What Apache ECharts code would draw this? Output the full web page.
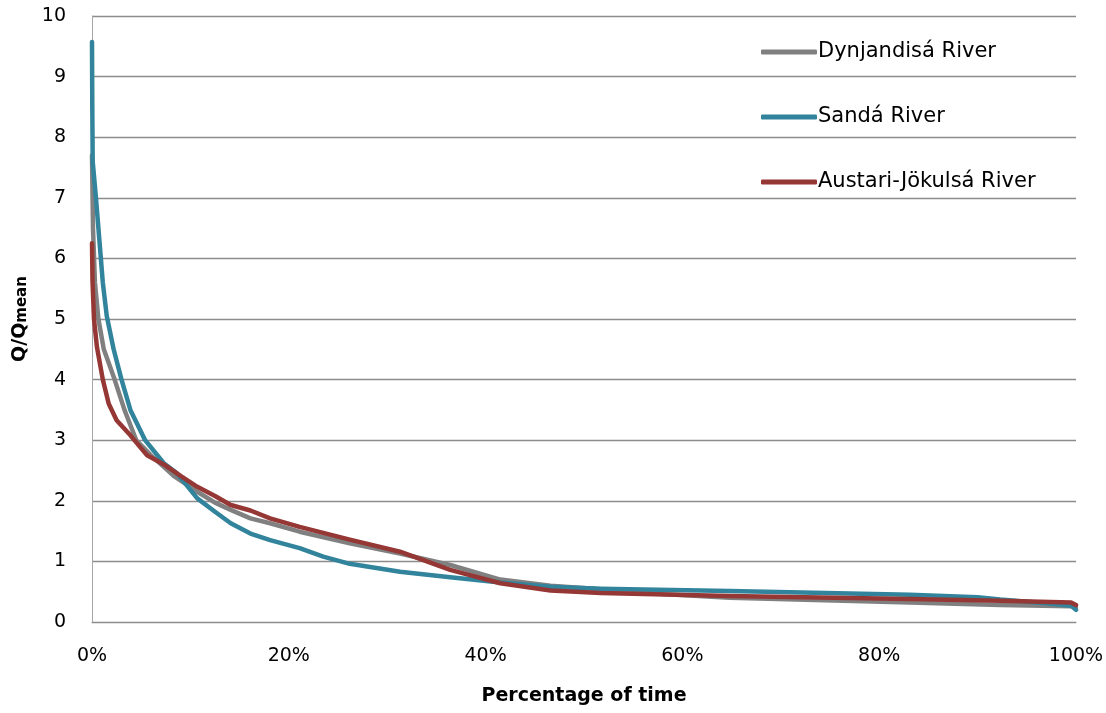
<!DOCTYPE html>
<html>
<head>
<meta charset="utf-8">
<script src="https://cdn.jsdelivr.net/npm/echarts@6/dist/echarts.min.js"></script>
<style>
html,body{margin:0;padding:0;background:#fff;}
#c{width:1106px;height:713px;}
</style>
</head>
<body>
<div id="c"></div>
<script>
const seriesNames = ["Dynjandisá River", "Sandá River", "Austari-Jökulsá River"];
const xTicks = [0, 20, 40, 60, 80, 100];
const yTicks = [0, 1, 2, 3, 4, 5, 6, 7, 8, 9, 10];

// [percentage of time, Q/Qmean]
const dynjandisa = [[0,7.7],[0.1,6.5],[0.3,5.6],[0.65,5.0],[1.2,4.5],[2.3,4.0],[3.3,3.5],[4.5,3.0],[6,2.75],[7.3,2.56],[8.3,2.41],[10.7,2.15],[12.5,1.97],[14.1,1.85],[16.1,1.71],[18.1,1.63],[21.1,1.49],[26.2,1.30],[31.3,1.13],[36.4,0.94],[41.5,0.70],[46.6,0.60],[51.7,0.54],[58,0.46],[64.8,0.40],[83.1,0.32],[92.3,0.28],[99.5,0.26],[100,0.24]];
const sanda = [[0,9.57],[0.03,8.5],[0.07,7.6],[0.4,7.0],[0.8,6.2],[1.1,5.6],[1.5,5.05],[2.2,4.5],[3.0,4.0],[3.9,3.5],[5.4,3.0],[7.3,2.62],[8.6,2.46],[10.7,2.04],[12.5,1.82],[14.1,1.63],[16.1,1.46],[18.1,1.35],[21.1,1.22],[23.5,1.08],[26.2,0.96],[31.3,0.83],[36.4,0.74],[41.5,0.65],[46.6,0.58],[51.7,0.55],[64.8,0.51],[83.1,0.45],[90,0.41],[92.3,0.37],[97,0.31],[99.5,0.27],[100,0.2]];
const austari = [[0,6.25],[0.05,5.64],[0.2,5.0],[0.5,4.54],[1.1,4.0],[1.7,3.6],[2.5,3.33],[3.9,3.08],[5.6,2.75],[7.3,2.6],[9,2.41],[10.7,2.23],[12.5,2.08],[14.1,1.93],[16.1,1.84],[18.1,1.71],[21.1,1.57],[26.2,1.36],[31.3,1.16],[36.4,0.86],[41.5,0.64],[46.6,0.52],[51.7,0.48],[64.8,0.43],[83.1,0.38],[92.3,0.35],[99.5,0.32],[100,0.28]];

const colors = ["#808080", "#31849B", "#953735"];
const font = "'DejaVu Sans', sans-serif";

const chart = echarts.init(document.getElementById('c'), null, {renderer: 'canvas'});
chart.setOption({
  animation: false,
  backgroundColor: '#fff',
  grid: {left: 92, right: 30, top: 16, bottom: 91, containLabel: false, outerBoundsMode: 'none'},
  legend: {
    orient: 'vertical',
    left: 756,
    top: 33,
    itemGap: 37,
    itemWidth: 56,
    itemHeight: 5,
    icon: 'roundRect',
    data: seriesNames,
    textStyle: {fontFamily: font, fontSize: 21, color: '#000', lineHeight: 28, padding: [0,0,0,-4]}
  },
  xAxis: {
    type: 'value', min: xTicks[0], max: xTicks[xTicks.length-1], interval: 20,
    name: 'Percentage of time', nameLocation: 'middle', nameGap: 65,
    nameTextStyle: {fontFamily: font, fontSize: 19, fontWeight: 'bold', color: '#000'},
    axisLine: {show: true, lineStyle: {color: '#8c8c8c', width: 1}},
    axisTick: {show: false},
    splitLine: {show: false},
    axisLabel: {fontFamily: font, fontSize: 19, color: '#000', margin: 25, formatter: '{value}%'}
  },
  yAxis: {
    type: 'value', min: yTicks[0], max: yTicks[yTicks.length-1], interval: 1,
    name: '{a|Q/Q}{b|mean}', nameLocation: 'middle', nameGap: 62, nameRotate: 90,
    nameTextStyle: {
      rich: {
        a: {fontFamily: font, fontSize: 19, fontWeight: 'bold', color: '#000'},
        b: {fontFamily: font, fontSize: 15, fontWeight: 'bold', color: '#000', padding: [5,0,0,0]}
      }
    },
    axisLine: {show: true, lineStyle: {color: '#a6a6a6', width: 1}},
    axisTick: {show: false},
    splitLine: {show: true, lineStyle: {color: '#8c8c8c', width: 1.3}},
    axisLabel: {fontFamily: font, fontSize: 19, color: '#000', margin: 26}
  },
  series: [
    {name: seriesNames[0], type: 'line', data: dynjandisa, showSymbol: false, symbol: 'none', smooth: false, z: 2,
     lineStyle: {color: colors[0], width: 4.5, cap: 'round', join: 'round'}, itemStyle: {color: colors[0]}},
    {name: seriesNames[1], type: 'line', data: sanda, showSymbol: false, symbol: 'none', smooth: false, z: 3,
     lineStyle: {color: colors[1], width: 4.5, cap: 'round', join: 'round'}, itemStyle: {color: colors[1]}},
    {name: seriesNames[2], type: 'line', data: austari, showSymbol: false, symbol: 'none', smooth: false, z: 4,
     lineStyle: {color: colors[2], width: 4.5, cap: 'round', join: 'round'}, itemStyle: {color: colors[2]}}
  ]
});
</script>
</body>
</html>
